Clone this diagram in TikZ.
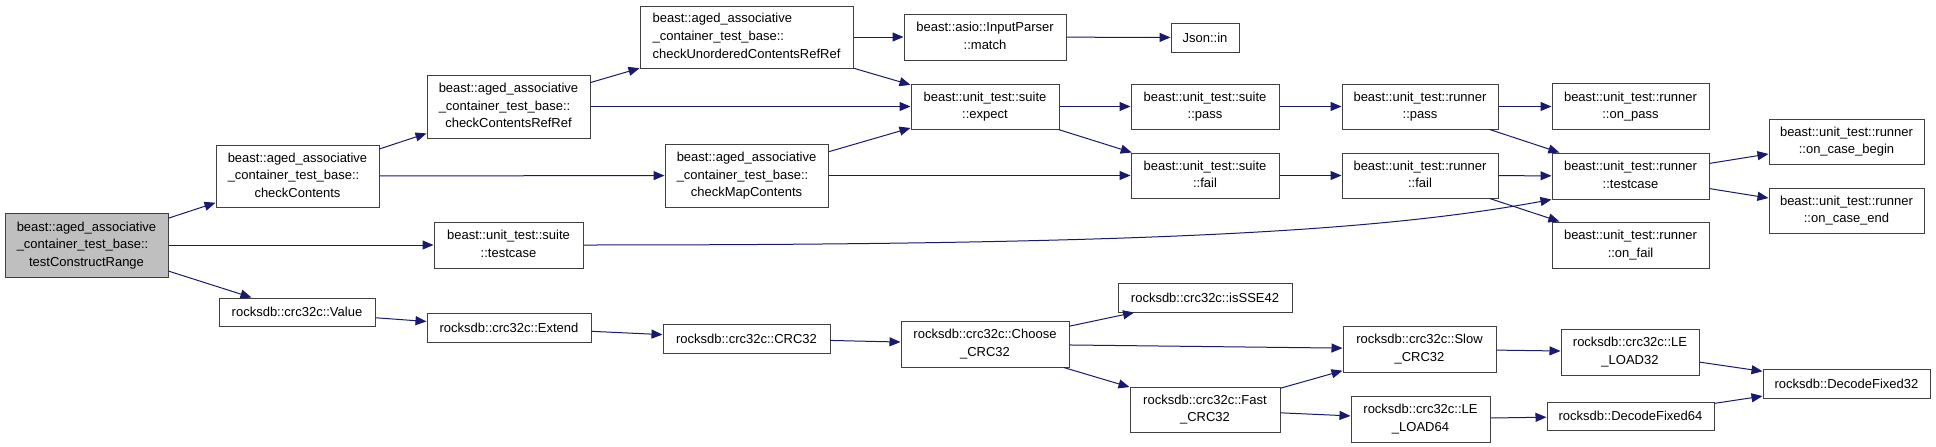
\documentclass[tikz,border=0pt]{standalone}
\usepackage{fontspec}
\setmainfont{Liberation Sans}
\usetikzlibrary{arrows.meta}
\definecolor{edgec}{RGB}{25,25,112}
\definecolor{boxc}{RGB}{64,64,64}
\definecolor{fillc}{RGB}{191,191,191}
\newcommand\twol[2]{\begin{tabular}{@{}l@{}}#1\\\multicolumn{1}{@{}c@{}}{#2}\end{tabular}}
\newcommand\threel[3]{\begin{tabular}{@{}l@{}}#1\\#2\\\multicolumn{1}{@{}c@{}}{#3}\end{tabular}}
\tikzset{
  fn/.style={draw=boxc, line width=1pt, fill=white, inner sep=0pt, text=black,
    font=\fontsize{13}{17.5}\selectfont},
  cur/.style={fn, fill=fillc},
  call/.style={draw=edgec, line width=1pt, -{Triangle[length=11pt,width=9pt]}},
}
\renewcommand\arraystretch{1.0}
\begin{document}
\begin{tikzpicture}[x=1pt,y=-1pt]
\useasboundingbox (0,0) rectangle (1936,447);
\fill[white] (0,0) rectangle (1936,447);
% nodes
\node[cur, minimum width=163, minimum height=64] (tcr) at (86.5,245) {\threel{beast::aged\_associative}{\_container\_test\_base::}{testConstructRange}};
\node[fn, minimum width=163, minimum height=62] (cc) at (297.5,176) {\threel{beast::aged\_associative}{\_container\_test\_base::}{checkContents}};
\node[fn, minimum width=149, minimum height=46] (sutc) at (508.5,245) {\twol{beast::unit\_test::suite}{::testcase}};
\node[fn, minimum width=156, minimum height=28] (val) at (297,312) {rocksdb::crc32c::Value};
\node[fn, minimum width=163, minimum height=63] (ccrr) at (508.5,106.5) {\threel{beast::aged\_associative}{\_container\_test\_base::}{checkContentsRefRef}};
\node[fn, minimum width=163, minimum height=63] (cmc) at (746.5,175.5) {\threel{beast::aged\_associative}{\_container\_test\_base::}{checkMapContents}};
\node[fn, minimum width=164, minimum height=29] (ext) at (509,327.5) {rocksdb::crc32c::Extend};
\node[fn, minimum width=213, minimum height=62] (cucrr) at (746.5,37) {\threel{beast::aged\_associative}{\_container\_test\_base::}{checkUnorderedContentsRefRef}};
\node[fn, minimum width=167, minimum height=29] (crc) at (746.5,338.5) {rocksdb::crc32c::CRC32};
\node[fn, minimum width=162, minimum height=46] (match) at (985,37) {\twol{beast::asio::InputParser}{::match}};
\node[fn, minimum width=148, minimum height=45] (expect) at (985,106.5) {\twol{beast::unit\_test::suite}{::expect}};
\node[fn, minimum width=168, minimum height=46] (choose) at (985,344) {\twol{rocksdb::crc32c::Choose}{\_CRC32}};
\node[fn, minimum width=68, minimum height=29] (json) at (1205,37.5) {Json::in};
\node[fn, minimum width=148, minimum height=45] (supass) at (1205,106.5) {\twol{beast::unit\_test::suite}{::pass}};
\node[fn, minimum width=148, minimum height=45] (sufail) at (1205,175.5) {\twol{beast::unit\_test::suite}{::fail}};
\node[fn, minimum width=174, minimum height=29] (sse) at (1205,297.5) {rocksdb::crc32c::isSSE42};
\node[fn, minimum width=150, minimum height=45] (fast) at (1205,409.5) {\twol{rocksdb::crc32c::Fast}{\_CRC32}};
\node[fn, minimum width=156, minimum height=45] (rpass) at (1420,106.5) {\twol{beast::unit\_test::runner}{::pass}};
\node[fn, minimum width=156, minimum height=45] (rfail) at (1420,175.5) {\twol{beast::unit\_test::runner}{::fail}};
\node[fn, minimum width=153, minimum height=46] (slow) at (1419.5,349) {\twol{rocksdb::crc32c::Slow}{\_CRC32}};
\node[fn, minimum width=139, minimum height=46] (le64) at (1420.5,419) {\twol{rocksdb::crc32c::LE}{\_LOAD64}};
\node[fn, minimum width=157, minimum height=46] (onpass) at (1630.5,106.5) {\twol{beast::unit\_test::runner}{::on\_pass}};
\node[fn, minimum width=157, minimum height=46] (rtc) at (1630.5,176) {\twol{beast::unit\_test::runner}{::testcase}};
\node[fn, minimum width=157, minimum height=46] (onfail) at (1630.5,245) {\twol{beast::unit\_test::runner}{::on\_fail}};
\node[fn, minimum width=138, minimum height=46] (le32) at (1630,352) {\twol{rocksdb::crc32c::LE}{\_LOAD32}};
\node[fn, minimum width=167, minimum height=28] (df64) at (1630.5,416) {rocksdb::DecodeFixed64};
\node[fn, minimum width=155, minimum height=45] (ocb) at (1846.5,141.5) {\twol{beast::unit\_test::runner}{::on\_case\_begin}};
\node[fn, minimum width=155, minimum height=45] (oce) at (1846.5,210.5) {\twol{beast::unit\_test::runner}{::on\_case\_end}};
\node[fn, minimum width=167, minimum height=29] (df32) at (1846.5,383.5) {rocksdb::DecodeFixed32};
% edges
\draw[call] (tcr) -- (cc);
\draw[call] (tcr) -- (sutc);
\draw[call] (tcr) -- (val);
\draw[call] (cc) -- (ccrr);
\draw[call] (cc) -- (cmc);
\draw[call] (ccrr) -- (cucrr);
\draw[call] (ccrr) -- (expect);
\draw[call] (cucrr) -- (match);
\draw[call] (cucrr) -- (expect);
\draw[call] (match) -- (json);
\draw[call] (cmc) -- (expect);
\draw[call] (cmc) -- (sufail);
\draw[call] (expect) -- (supass);
\draw[call] (expect) -- (sufail);
\draw[call] (supass) -- (rpass);
\draw[call] (sufail) -- (rfail);
\draw[call] (rpass) -- (onpass);
\draw[call] (rpass) -- (rtc);
\draw[call] (rfail) -- (rtc);
\draw[call] (rfail) -- (onfail);
\draw[call] (sutc.east) .. controls (1150,245) and (1380,231) .. (rtc.south west);
\draw[call] (rtc) -- (ocb);
\draw[call] (rtc) -- (oce);
\draw[call] (val) -- (ext);
\draw[call] (ext) -- (crc);
\draw[call] (crc) -- (choose);
\draw[call] (choose) -- (sse);
\draw[call] (choose) -- (slow);
\draw[call] (choose) -- (fast);
\draw[call] (fast) -- (slow);
\draw[call] (fast) -- (le64);
\draw[call] (slow) -- (le32);
\draw[call] (le32) -- (df32);
\draw[call] (le64) -- (df64);
\draw[call] (df64) -- (df32);
\end{tikzpicture}
\end{document}
